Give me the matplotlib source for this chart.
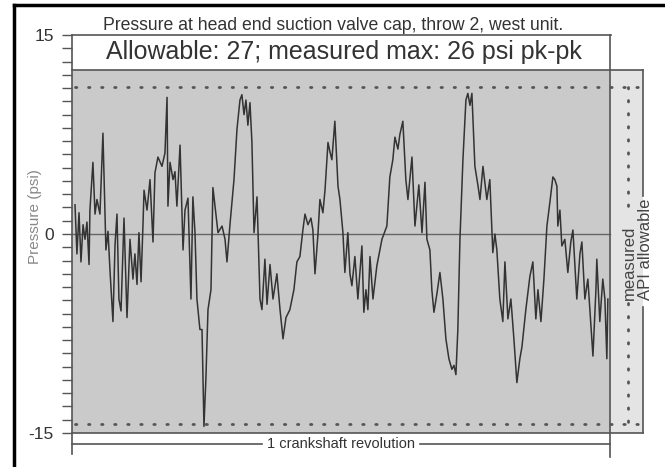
import matplotlib
matplotlib.use("Agg")
import matplotlib.pyplot as plt
from matplotlib.lines import Line2D

plt.rcParams['font.family'] = ['Liberation Sans', 'DejaVu Sans']
plt.rcParams['axes.unicode_minus'] = False

# crank angle (deg, one revolution = 360) and pressure (psi)
angle = [2.0, 3.3, 4.7, 6.0, 7.4, 8.7, 10.0, 11.4, 12.0, 14.0, 15.4, 16.7, 18.7, 20.7,
         22.7, 24.1, 25.4, 27.4, 28.8, 30.1, 31.4, 32.8, 34.8, 36.8, 38.8, 40.8, 42.1,
         43.5, 44.8, 46.2, 47.5, 48.2, 50.2, 52.2, 54.2, 55.5, 57.5, 60.2, 62.2, 63.6,
         64.2, 65.6, 67.6, 68.9, 70.2, 72.3, 74.3, 75.6, 77.6, 79.6, 80.9, 82.3, 83.6,
         85.6, 87.0, 88.3, 89.6, 91.0, 93.0, 94.3, 96.3, 97.7, 100.4, 102.4, 103.7, 105.7,
         108.4, 110.4, 112.4, 113.7, 115.1, 116.4, 117.7, 119.1, 120.4, 121.8, 123.8,
         125.8, 127.1, 129.1, 130.5, 132.5, 134.5, 137.1, 139.2, 141.2, 143.2, 145.8,
         148.5, 150.5, 152.5, 154.5, 155.9, 157.9, 159.9, 161.2, 162.6, 164.6, 165.9,
         167.9, 169.3, 171.3, 172.6, 173.9, 175.9, 178.0, 179.3, 181.3, 182.6, 184.6,
         186.0, 187.3, 189.3, 191.3, 194.0, 195.3, 196.7, 198.0, 199.4, 201.4, 204.0,
         207.4, 210.7, 212.7, 214.7, 216.1, 218.1, 219.4, 221.4, 223.4, 224.8, 227.5,
         229.5, 232.1, 234.2, 236.2, 237.5, 239.5, 240.8, 242.2, 244.2, 246.2, 248.2,
         250.2, 252.2, 254.2, 255.6, 256.9, 258.2, 259.6, 261.6, 263.6, 264.9, 266.3,
         267.6, 269.6, 271.6, 273.0, 275.0, 277.6, 279.6, 281.6, 283.0, 284.3, 286.3,
         288.3, 289.7, 291.7, 293.7, 295.7, 297.7, 299.7, 301.1, 303.7, 306.4, 308.4,
         310.4, 311.8, 313.8, 315.8, 317.8, 319.8, 321.8, 323.1, 324.5, 325.1, 326.5,
         327.8, 329.8, 331.8, 333.8, 335.2, 337.8, 339.9, 341.2, 343.2, 345.2, 348.6,
         350.6, 351.2, 353.2, 355.2, 356.6, 357.9, 358.6]
pressure = [2.2, -1.5, 1.6, -2.1, 0.7, -0.4, 0.9, -2.3, 1.8, 5.4, 1.5, 2.6, 1.5, 7.6,
            -1.2, 0.2, -2.7, -6.6, -0.8, 1.5, -4.9, -5.8, 1.2, -6.3, -0.4, -3.4, -1.5,
            -3.8, 0.1, -3.6, 0.7, 3.3, 1.8, 4.1, -0.6, 4.6, 5.8, 5.1, 6.1, 10.3,
            2.1, 5.4, 4.1, 4.7, 2.1, 6.7, -1.2, 1.8, 2.7, -4.9, 2.8, 0.1, -4.9,
            -7.2, -7.2, -14.5, -10.9, -5.7, -4.2, 3.5, 1.5, 0.1, 0.6, -0.4, -2.1, 0.7,
            4.1, 7.9, 10.1, 10.5, 9.0, 10.1, 8.2, 9.9, 6.9, 0.1, 2.8,
            -4.9, -5.7, -1.9, -5.3, -2.3, -4.9, -3.0, -5.7, -7.9, -6.3, -5.7,
            -4.2, -2.1, -1.7, 0.3, 1.5, 0.7, 1.2, 0.3, -3.0, 0.0, 2.6,
            1.6, 3.3, 6.9, 6.2, 5.6, 8.5, 3.6, 2.6, 0.1, -2.9, 0.1,
            -3.0, -3.9, -1.7, -4.9, -0.9, -5.9, -4.2, -5.7, -1.7, -4.9, -2.4,
            -0.4, 0.6, 4.3, 5.6, 7.3, 6.4, 7.5, 8.5, 4.1, 2.6, 5.8,
            0.6, 3.7, 0.1, 3.9, -0.4, -1.2, -4.2, -5.9, -4.5, -2.9, -4.9,
            -7.9, -9.4, -10.2, -9.9, -10.6, -7.2, -0.4, 5.6, 10.1, 10.6, 9.7,
            10.6, 5.1, 3.7, 2.6, 5.1, 2.6, 4.1, -1.4, 0.0, -1.2, -4.9,
            -6.6, -2.1, -6.4, -4.9, -7.9, -11.2, -9.4, -8.5, -5.7, -3.2, -2.1,
            -6.4, -4.2, -6.6, -3.4, 0.6, 2.4, 4.3, 4.1, 3.6, 0.6, 1.8,
            -0.9, -0.4, -2.9, -0.6, 0.3, -4.9, -1.5, -0.6, -4.9, -3.4, -9.2,
            -4.2, -1.9, -6.6, -3.4, -4.9, -9.4, -4.9]

measured_hi = 11.1
measured_lo = -14.3
box_top = 12.37
x_end = 382.1

fig = plt.figure(figsize=(6.65, 4.67), dpi=100)
ax = fig.add_axes([72/665, 34/467, 571/665, 398/467])
ax.set_xlim(0, x_end)
ax.set_ylim(-15, 15)
for s in ax.spines.values():
    s.set_visible(False)

# backgrounds
ax.fill_between([0, 360], -15, box_top, color='#cacaca', lw=0, zorder=0)
ax.fill_between([360, x_end], -15, box_top, color='#e4e4e4', lw=0, zorder=0)

# frame lines
lc = '#555555'
kw = dict(color=lc, lw=1.2, clip_on=False, zorder=3)
ax.plot([0, 0], [15, -16.6], **kw)
ax.plot([0, 361], [15, 15], **kw)
ax.plot([360, 360], [15, -16.8], **kw)
ax.plot([0, x_end], [box_top, box_top], **kw)
ax.plot([0, x_end], [-15, -15], **kw)
ax.plot([x_end, x_end], [box_top, 2.9], **kw)
ax.plot([x_end, x_end], [-5.5, -15], **kw)
ax.plot([0, 127], [-15.8, -15.8], **kw)
ax.plot([233, 360], [-15.8, -15.8], **kw)
ax.plot([0, 360], [0, 0], color='#666666', lw=1.0, zorder=2)

# measured limits (dotted)
dkw = dict(color='#555555', lw=2.0, ls=(0, (0.5, 4.2)), dash_capstyle='round', zorder=2)
ax.plot([2, 380], [measured_hi, measured_hi], **dkw)
ax.plot([2, 380], [measured_lo, measured_lo], **dkw)
ax.plot([372, 372], [measured_hi, 1.8], **dkw)
ax.plot([372, 372], [-5.2, measured_lo], **dkw)

# trace
ax.plot(angle, pressure, color='#333333', lw=1.1, zorder=4)

# y ticks
ax.set_yticks([-15, 0, 15])
ax.set_yticks(range(-15, 16), minor=True)
ax.set_xticks([])
ax.tick_params(axis='y', which='both', direction='out', length=7, width=1.0,
               color='#555555', pad=6)
ax.tick_params(axis='y', which='major', labelsize=12.5, labelcolor='#333333')

ax.text(373, -5.0, 'measured', rotation=90, ha='center', va='bottom',
        fontsize=12, color='#444444')
ax.text(x_end + 1.8, -5.0, 'API allowable', rotation=90, ha='center', va='bottom',
        fontsize=12, color='#444444', clip_on=False)
ax.text(180, -15.8, '1 crankshaft revolution', ha='center', va='center',
        fontsize=10.5, color='#333333')
ax.text(182, 13.7, 'Allowable: 27; measured max: 26 psi pk-pk', ha='center',
        va='center', fontsize=18, color='#333333')

fig.text(333/665, 1 - 26/467, 'Pressure at head end suction valve cap, throw 2, west unit.',
         ha='center', va='center', fontsize=12.7, color='#333333')
fig.text(35/665, 1 - 217/467, 'Pressure (psi)', rotation=90, ha='center', va='center',
         fontsize=11, color='#888888')

# outer black border
fig.add_artist(Line2D([14/665, 14/665], [0, 1 - 5/467], color='black', lw=2.5))
fig.add_artist(Line2D([14/665, 1], [1 - 5/467, 1 - 5/467], color='black', lw=2.5))

fig.savefig('out.png', dpi=100)
